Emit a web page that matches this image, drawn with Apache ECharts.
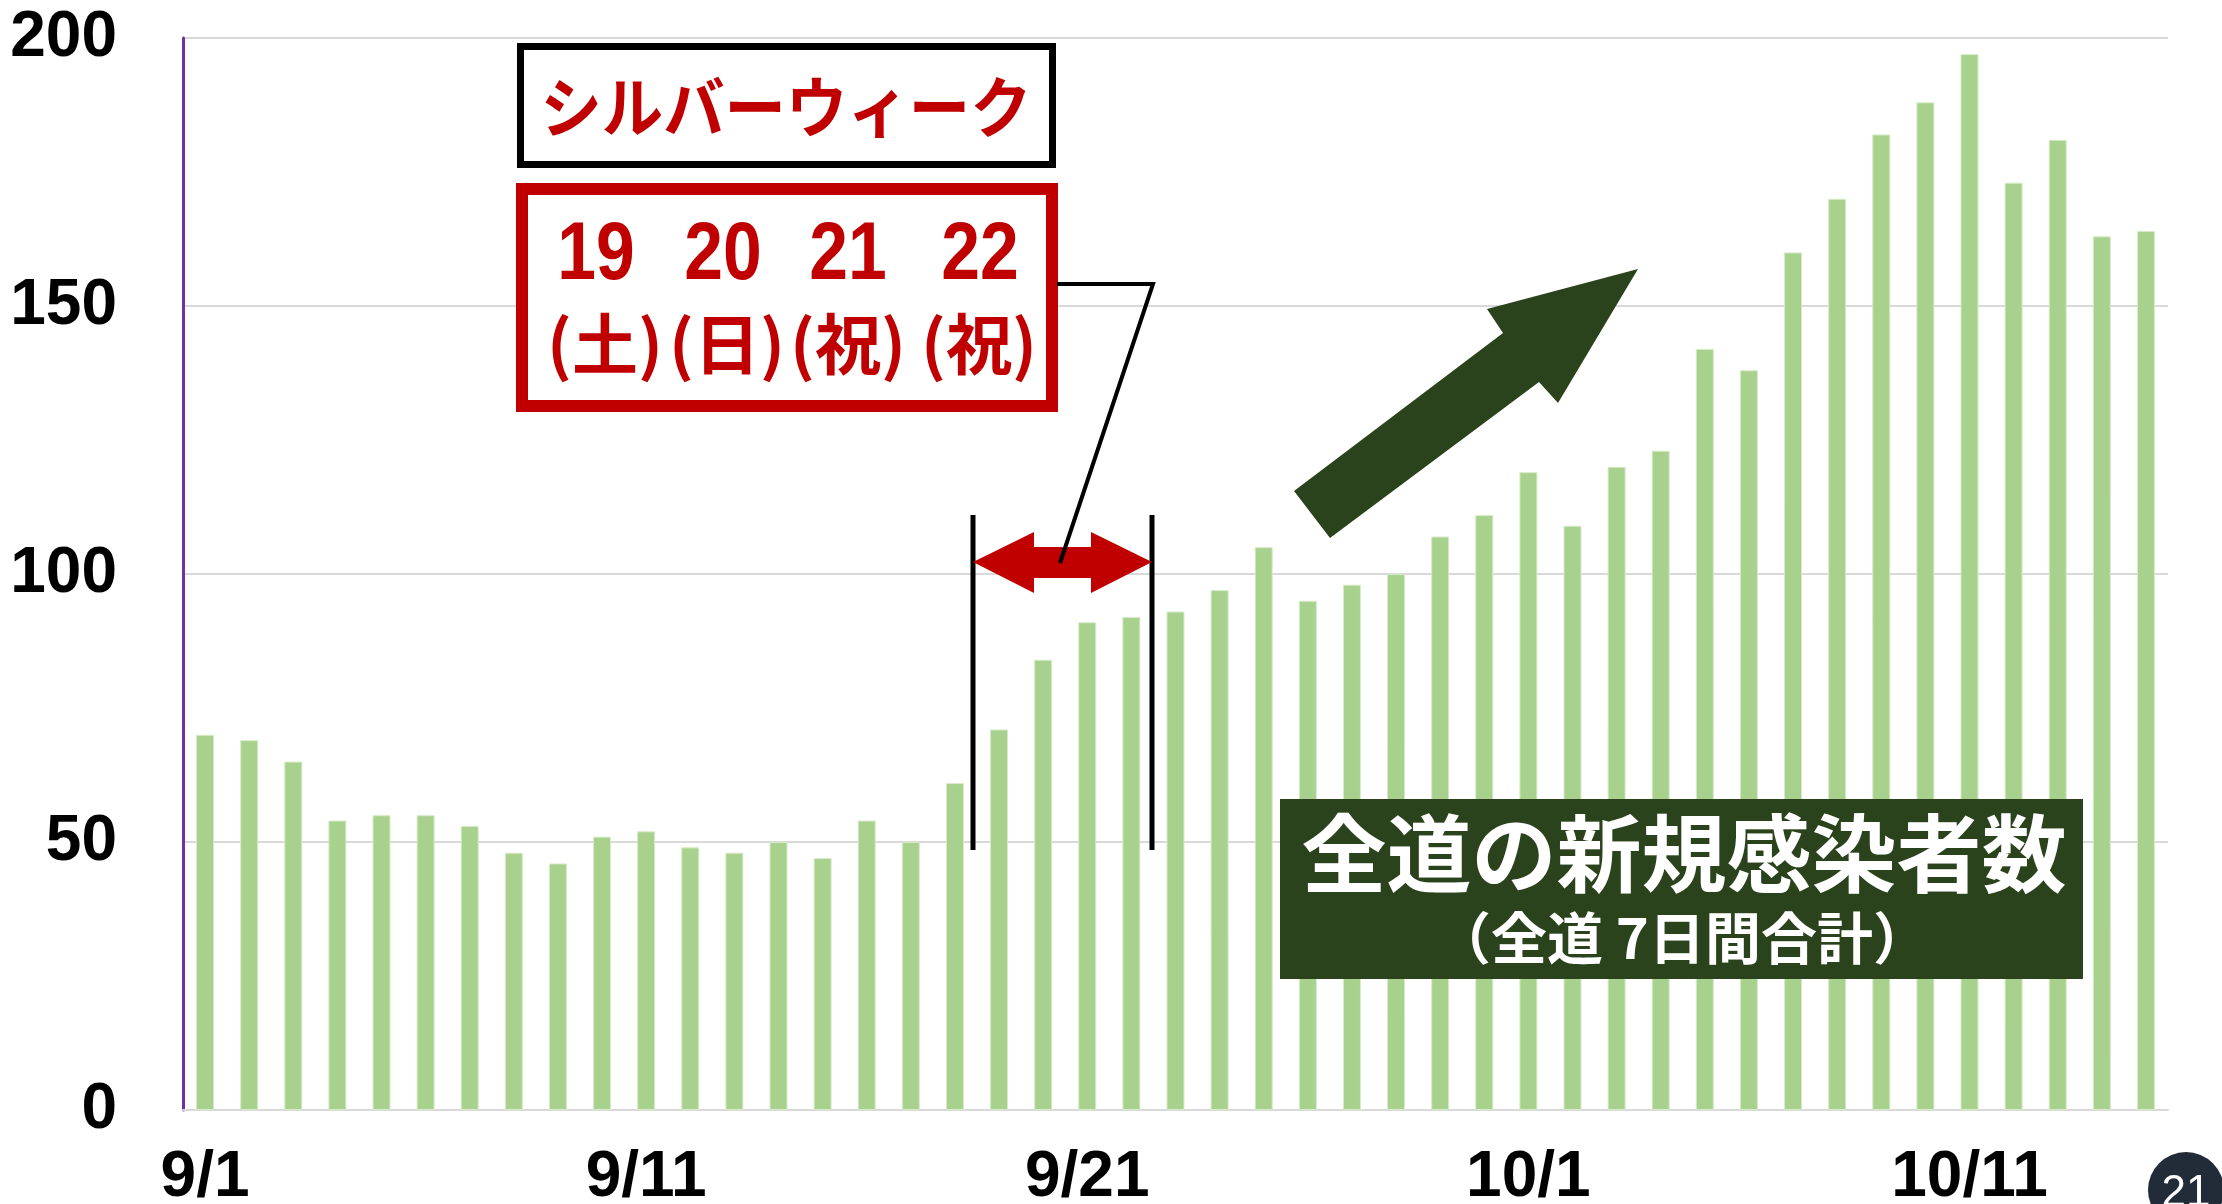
<!DOCTYPE html>
<html>
<head>
<meta charset="utf-8">
<style>
  html, body { margin: 0; padding: 0; background: #fff; }
  #main { width: 2222px; height: 1204px; }
</style>
<script src="https://cdn.jsdelivr.net/npm/echarts@6/dist/echarts.min.js"></script>
</head>
<body>
<div id="main"></div>
<script>
// daily values: 7-day total of new cases, whole of Hokkaido
const dates = [
  '9/1', '9/2', '9/3', '9/4', '9/5', '9/6', '9/7', '9/8', '9/9', '9/10',
  '9/11', '9/12', '9/13', '9/14', '9/15', '9/16', '9/17', '9/18', '9/19', '9/20',
  '9/21', '9/22', '9/23', '9/24', '9/25', '9/26', '9/27', '9/28', '9/29', '9/30',
  '10/1', '10/2', '10/3', '10/4', '10/5', '10/6', '10/7', '10/8', '10/9', '10/10',
  '10/11', '10/12', '10/13', '10/14', '10/15'
];
const cases = [
  70, 69, 65, 54, 55, 55, 53, 48, 46, 51,
  52, 49, 48, 50, 47, 54, 50, 61, 71, 84,
  91, 92, 93, 97, 105, 95, 98, 100, 107, 111,
  119, 109, 120, 123, 142, 138, 160, 170, 182, 188,
  197, 173, 181, 163, 164
];

const holidayTitle = 'シルバーウィーク';
const holidayDates = ['19', '20', '21', '22'];
const holidayDays = ['(土)', '(日)', '(祝)', '(祝)'];
const boxTitle = '全道の新規感染者数';
const boxSubtitle = '（全道 7日間合計）';
const pageNumber = '21';

const RED = '#C00000';
const DARK_GREEN = '#2B431C';
const JP_FONT = '"Noto Sans CJK JP", sans-serif';
const NUM_FONT = '"Liberation Sans", Arial, sans-serif';

var chartDom = document.getElementById('main');
var myChart = echarts.init(chartDom);
var option;

function holidayTexts() {
  const colX = [596, 723, 848, 980];
  const dayX = [605, 727, 848, 979];
  let items = [];
  holidayDates.forEach((d, i) => {
    items.push({
      type: 'text', x: colX[i], y: 256, scaleX: 0.85, z: 120,
      style: { text: d, fill: RED, align: 'center', verticalAlign: 'middle',
               font: 'bold 82px ' + NUM_FONT }
    });
  });
  holidayDays.forEach((d, i) => {
    items.push({
      type: 'text', x: dayX[i], y: 344, z: 120,
      style: { text: d, fill: RED, align: 'center', verticalAlign: 'middle',
               font: 'bold 66px ' + JP_FONT }
    });
  });
  return items;
}

function getGraphics() {
  return [
    // silver week title box
    {
      type: 'rect', z: 110,
      shape: { x: 520.5, y: 46.5, width: 532, height: 118 },
      style: { fill: '#fff', stroke: '#000', lineWidth: 7 }
    },
    {
      type: 'text', x: 786, y: 107, scaleX: 0.93, z: 120,
      style: { text: holidayTitle, fill: RED, align: 'center', verticalAlign: 'middle',
               font: 'bold 66px ' + JP_FONT }
    },
    // dates box
    {
      type: 'rect', z: 110,
      shape: { x: 522, y: 189, width: 530, height: 217 },
      style: { fill: '#fff', stroke: RED, lineWidth: 12 }
    }
  ].concat(holidayTexts()).concat([
    // bracket lines
    {
      type: 'line', z: 110,
      shape: { x1: 973, y1: 515, x2: 973, y2: 850 },
      style: { stroke: '#000', lineWidth: 5 }
    },
    {
      type: 'line', z: 110,
      shape: { x1: 1152, y1: 515, x2: 1152, y2: 850 },
      style: { stroke: '#000', lineWidth: 5 }
    },
    // double headed arrow
    {
      type: 'polygon', z: 115,
      shape: { points: [[973, 562], [1034, 532], [1034, 547], [1091, 547], [1091, 532],
                        [1152, 562], [1091, 593], [1091, 578], [1034, 578], [1034, 593]] },
      style: { fill: RED }
    },
    // callout
    {
      type: 'polyline', z: 118,
      shape: { points: [[1057, 284], [1153, 284], [1060, 563]] },
      style: { stroke: '#000', lineWidth: 4, fill: null }
    },
    // trend arrow
    {
      type: 'polygon', z: 110,
      shape: { points: [[1294, 491], [1503, 333], [1487, 309], [1638, 269],
                        [1558, 403], [1539, 382], [1330, 538]] },
      style: { fill: DARK_GREEN }
    },
    // title box
    {
      type: 'rect', z: 110,
      shape: { x: 1280, y: 799, width: 803, height: 180 },
      style: { fill: DARK_GREEN }
    },
    {
      type: 'text', x: 1684, y: 854, z: 120,
      style: { text: boxTitle, fill: '#fff', align: 'center', verticalAlign: 'middle',
               font: 'bold 85px ' + JP_FONT }
    },
    {
      type: 'text', x: 1682, y: 938, z: 120,
      style: { text: boxSubtitle, fill: '#fff', align: 'center', verticalAlign: 'middle',
               font: 'bold 56px ' + JP_FONT }
    },
    // page number
    {
      type: 'circle', z: 110,
      shape: { cx: 2186, cy: 1190, r: 38 },
      style: { fill: '#222B38' }
    },
    {
      type: 'text', x: 2186, y: 1194, z: 120,
      style: { text: pageNumber, fill: '#fff', align: 'center', verticalAlign: 'middle',
               font: '44px ' + NUM_FONT }
    }
  ]);
}

option = {
  animation: false,
  backgroundColor: '#fff',
  grid: {
    left: 183,
    right: 54,
    top: 38,
    bottom: 94,
    outerBoundsMode: 'none',
    containLabel: false
  },
  xAxis: {
    type: 'category',
    data: dates,
    boundaryGap: true,
    axisLine: { show: true, lineStyle: { color: '#D9D9D9', width: 2 } },
    axisTick: { show: false },
    axisLabel: {
      interval: 9,
      margin: 36,
      color: '#000',
      fontSize: 64,
      fontWeight: 'bold',
      fontFamily: NUM_FONT
    }
  },
  yAxis: {
    type: 'value',
    min: 0,
    max: 200,
    interval: 50,
    axisLine: { show: true, lineStyle: { color: '#7030A0', width: 3 } },
    axisTick: { show: false },
    splitLine: { show: true, lineStyle: { color: '#D9D9D9', width: 2 } },
    axisLabel: {
      margin: 66,
      color: '#000',
      fontSize: 64,
      fontWeight: 'bold',
      fontFamily: NUM_FONT
    }
  },
  series: [
    {
      name: '新規感染者数',
      type: 'bar',
      data: cases,
      barWidth: 18,
      itemStyle: {
        color: '#A9D18E',
        borderColor: '#D6EBC8',
        borderWidth: 1
      }
    }
  ],
  graphic: getGraphics()
};

option && myChart.setOption(option);
</script>
</body>
</html>
